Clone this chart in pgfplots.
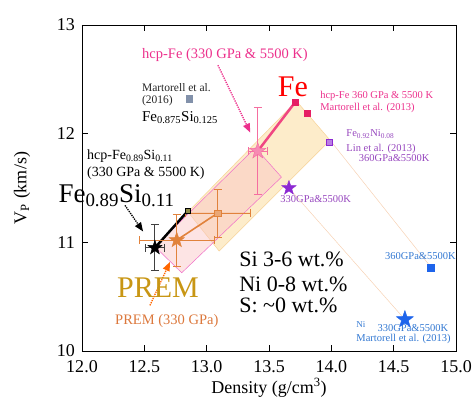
\documentclass[border=0pt]{standalone}
\usepackage{fontspec}
\setmainfont{Liberation Serif}
\usepackage{pgfplots}
\pgfplotsset{compat=1.18}
\usetikzlibrary{arrows.meta}

\definecolor{pinkA}{RGB}{236,48,140}
\definecolor{pinkline}{RGB}{240,70,130}
\definecolor{pinkstar}{RGB}{245,110,160}
\definecolor{fesq}{RGB}{230,30,100}
\definecolor{yband}{RGB}{252,228,180}
\definecolor{yedge}{RGB}{247,210,150}
\definecolor{pband}{RGB}{250,195,195}
\definecolor{pedge}{RGB}{240,110,200}
\definecolor{orng}{RGB}{225,130,60}
\definecolor{gold}{RGB}{200,150,20}
\definecolor{premtxt}{RGB}{220,120,60}
\definecolor{purp}{RGB}{140,40,210}
\definecolor{purptxt}{RGB}{150,70,190}
\definecolor{blu}{RGB}{30,100,235}
\definecolor{blutxt}{RGB}{50,120,210}
\definecolor{greysq}{RGB}{130,145,170}
\definecolor{thinor}{RGB}{247,210,180}

\pgfdeclareplotmark{fstar}{%
 \pgfpathmoveto{\pgfpointpolar{90}{\pgfplotmarksize}}%
 \pgfpathlineto{\pgfpointpolar{126}{0.4\pgfplotmarksize}}%
 \pgfpathlineto{\pgfpointpolar{162}{\pgfplotmarksize}}%
 \pgfpathlineto{\pgfpointpolar{198}{0.4\pgfplotmarksize}}%
 \pgfpathlineto{\pgfpointpolar{234}{\pgfplotmarksize}}%
 \pgfpathlineto{\pgfpointpolar{270}{0.4\pgfplotmarksize}}%
 \pgfpathlineto{\pgfpointpolar{306}{\pgfplotmarksize}}%
 \pgfpathlineto{\pgfpointpolar{342}{0.4\pgfplotmarksize}}%
 \pgfpathlineto{\pgfpointpolar{18}{\pgfplotmarksize}}%
 \pgfpathlineto{\pgfpointpolar{54}{0.4\pgfplotmarksize}}%
 \pgfpathclose
 \pgfusepathqfillstroke
}

\newcommand{\fs}[1]{\fontsize{#1}{#1}\selectfont}

\begin{document}
\begin{tikzpicture}
\useasboundingbox (-82pt,-45pt) rectangle (391pt,351pt);
\begin{axis}[
 at={(0pt,0pt)}, anchor=south west,
 width=374pt, height=326pt, scale only axis,
 xmin=12, xmax=15, ymin=10, ymax=13,
 xtick={12,12.5,13,13.5,14,14.5,15},
 xticklabels={12.0,12.5,13.0,13.5,14.0,14.5,15.0},
 ytick={10,11,12,13}, yticklabels={10,11,12,13},
 tick align=inside, major tick length=6pt,
 tick style={black, line width=0.8pt},
 axis line style={black, line width=0.8pt},
 tick label style={font=\fs{18}, inner sep=1pt},
 xticklabel style={yshift=-8pt},
 yticklabel style={xshift=-6pt},
 label style={font=\fs{18}},
 xlabel={Density (g/cm\textsuperscript{3})},
 ylabel={V\textsubscript{P} (km/s)},
 xlabel style={at={(axis description cs:0.5,-0.113)}, anchor=center, inner sep=0pt},
 ylabel style={at={(axis description cs:-0.16,0.5)}, anchor=center, inner sep=0pt},
 clip=false,
]
% shaded bands
\addplot[fill=yband, fill opacity=0.7, draw=yedge, line width=0.5pt]
 coordinates {(12.85,11.28) (13.72,12.30) (13.99,11.94) (13.10,10.92)} -- cycle;
\addplot[fill=pband, fill opacity=0.45, draw=pedge, line width=0.5pt]
 coordinates {(12.585,10.96) (13.39,11.87) (13.60,11.60) (12.80,10.72)} -- cycle;
% thin lines
\addplot[thinor, line width=0.5pt] coordinates {(13.99,11.94) (14.80,10.77)};
\addplot[thinor, line width=0.5pt] coordinates {(13.66,11.50) (14.59,10.29)};
% connecting lines
\addplot[orng, line width=1.6pt] coordinates {(12.76,11.02) (13.09,11.27)};
\addplot[black, line width=2.5pt] coordinates {(12.585,10.95) (12.85,11.29)};
\addplot[pinkline, line width=2.5pt] coordinates {(13.41,11.84) (13.71,12.29)};
% error bars + markers
\addplot[only marks, mark=square*, mark size=3.2pt, color=orng, fill=orng!70,
 error bars/.cd, x dir=both, y dir=both, x explicit, y explicit,
 error bar style={orng, line width=0.8pt},
 error mark options={rotate=90, mark size=4pt, orng, line width=0.8pt}]
 coordinates {(13.09,11.27) +- (0.26,0.22)};
\addplot[only marks, mark=fstar, mark size=8pt, color=orng, fill=orng,
 error bars/.cd, x dir=both, y dir=both, x explicit, y explicit,
 error bar style={orng, line width=0.8pt},
 error mark options={rotate=90, mark size=4pt, orng, line width=0.8pt}]
 coordinates {(12.76,11.02) +- (0.30,0.24)};
\addplot[only marks, mark=fstar, mark size=7.5pt, color=black, fill=black,
 error bars/.cd, x dir=both, y dir=both, x explicit, y explicit,
 error bar style={black!75, line width=0.9pt},
 error mark options={rotate=90, mark size=4pt, black!75, line width=0.9pt}]
 coordinates {(12.585,10.95) +- (0.08,0.21)};
\addplot[only marks, mark=fstar, mark size=8.5pt, color=pinkstar, fill=pinkstar!80,
 error bars/.cd, x dir=both, y dir=both, x explicit, y explicit,
 error bar style={pinkstar, line width=0.9pt},
 error mark options={rotate=90, mark size=4pt, pinkstar, line width=0.9pt}]
 coordinates {(13.41,11.84) +- (0.075,0.40)};
\addplot[only marks, mark=square*, mark size=2.6pt, color=black, fill=yellow!50!black]
 coordinates {(12.85,11.29)};
\addplot[only marks, mark=square*, mark size=3pt, color=fesq, fill=fesq]
 coordinates {(13.71,12.29) (13.81,12.19)};
\addplot[only marks, mark=square*, mark size=3pt, color=purp, fill=purp!60]
 coordinates {(13.98,11.92)};
\addplot[only marks, mark=square*, mark size=3.2pt, color=greysq, fill=greysq]
 coordinates {(12.86,12.32)};
\addplot[only marks, mark=fstar, mark size=7.5pt, color=purp, fill=purp]
 coordinates {(13.66,11.50)};
\addplot[only marks, mark=square*, mark size=3.4pt, color=blu, fill=blu]
 coordinates {(14.80,10.77)};
\addplot[only marks, mark=fstar, mark size=9pt, color=blu, fill=blu]
 coordinates {(14.59,10.29)};
% annotation arrows
\draw[pinkA, densely dotted, line width=1.3pt, -{Triangle[length=9pt,width=7pt]}] (13.09,12.63) -- (13.35,12.01);
\draw[black, densely dotted, line width=1.3pt, -{Triangle[length=9pt,width=7pt]}] (12.345,11.34) -- (12.49,11.10);
\draw[orange!80!red, densely dotted, line width=1.3pt, -{Triangle[length=9pt,width=7pt]}] (12.545,10.42) -- (12.706,10.82);
% texts
\node[pinkA, font=\fs{14.5}, anchor=base, inner sep=0pt] at (13.147,12.69) {hcp-Fe (330 GPa \& 5500 K)};
\node[black!85, font=\fs{11.5}, anchor=base west, inner sep=0pt] at (12.48,12.39) {Martorell et al.};
\node[black!85, font=\fs{11.5}, anchor=base west, inner sep=0pt] at (12.48,12.28) {(2016)};
\node[black, font=\fs{15}, anchor=base west, inner sep=0pt] at (12.48,12.11) {Fe\textsubscript{0.875}Si\textsubscript{0.125}};
\node[black, font=\fs{14}, anchor=base west, inner sep=0pt] at (12.04,11.76) {hcp-Fe\textsubscript{0.89}Si\textsubscript{0.11}};
\node[black, font=\fs{14}, anchor=base west, inner sep=0pt] at (12.04,11.61) {(330 GPa \& 5500 K)};
\node[black, font=\fs{27}, anchor=base west, inner sep=0pt] at (11.81,11.37) {Fe\textsubscript{0.89}Si\textsubscript{0.11}};
\node[red, font=\fs{30}, anchor=base west, inner sep=0pt] at (13.57,12.34) {Fe};
\node[gold, font=\fs{30}, anchor=base west, inner sep=0pt] at (12.28,10.49) {PREM};
\node[premtxt, font=\fs{14.5}, anchor=base west, inner sep=0pt] at (12.265,10.24) {PREM (330 GPa)};
\node[black, font=\fs{22}, anchor=base west, inner sep=0pt] at (13.26,10.78) {Si 3-6 wt.\%};
\node[black, font=\fs{22}, anchor=base west, inner sep=0pt] at (13.26,10.55) {Ni 0-8 wt.\%};
\node[black, font=\fs{22}, anchor=base west, inner sep=0pt] at (13.26,10.35) {S: \textasciitilde0 wt.\%};
\node[pinkA, font=\fs{10.5}, anchor=base west, inner sep=0pt] at (13.91,12.32) {hcp-Fe 360 GPa \& 5500 K};
\node[pinkA, font=\fs{10.5}, anchor=base west, inner sep=0pt] at (13.91,12.21) {Martorell et al. (2013)};
\node[purptxt, font=\fs{10.5}, anchor=base west, inner sep=0pt] at (14.12,11.97) {Fe\textsubscript{0.92}Ni\textsubscript{0.08}};
\node[purptxt, font=\fs{10.5}, anchor=base west, inner sep=0pt] at (14.12,11.84) {Lin et al. (2013)};
\node[purptxt, font=\fs{10.5}, anchor=base west, inner sep=0pt] at (14.22,11.74) {360GPa\&5500K};
\node[purptxt, font=\fs{10.5}, anchor=base west, inner sep=0pt] at (13.59,11.37) {330GPa\&5500K};
\node[blutxt, font=\fs{10.5}, anchor=base west, inner sep=0pt] at (14.43,10.84) {360GPa\&5500K};
\node[blutxt, font=\fs{9}, anchor=base west, inner sep=0pt] at (14.20,10.22) {Ni};
\node[blutxt, font=\fs{10.5}, anchor=base west, inner sep=0pt] at (14.37,10.18) {330GPa\&5500K};
\node[blutxt, font=\fs{10.5}, anchor=base west, inner sep=0pt] at (14.20,10.09) {Martorell et al. (2013)};
\end{axis}
\end{tikzpicture}
\end{document}
